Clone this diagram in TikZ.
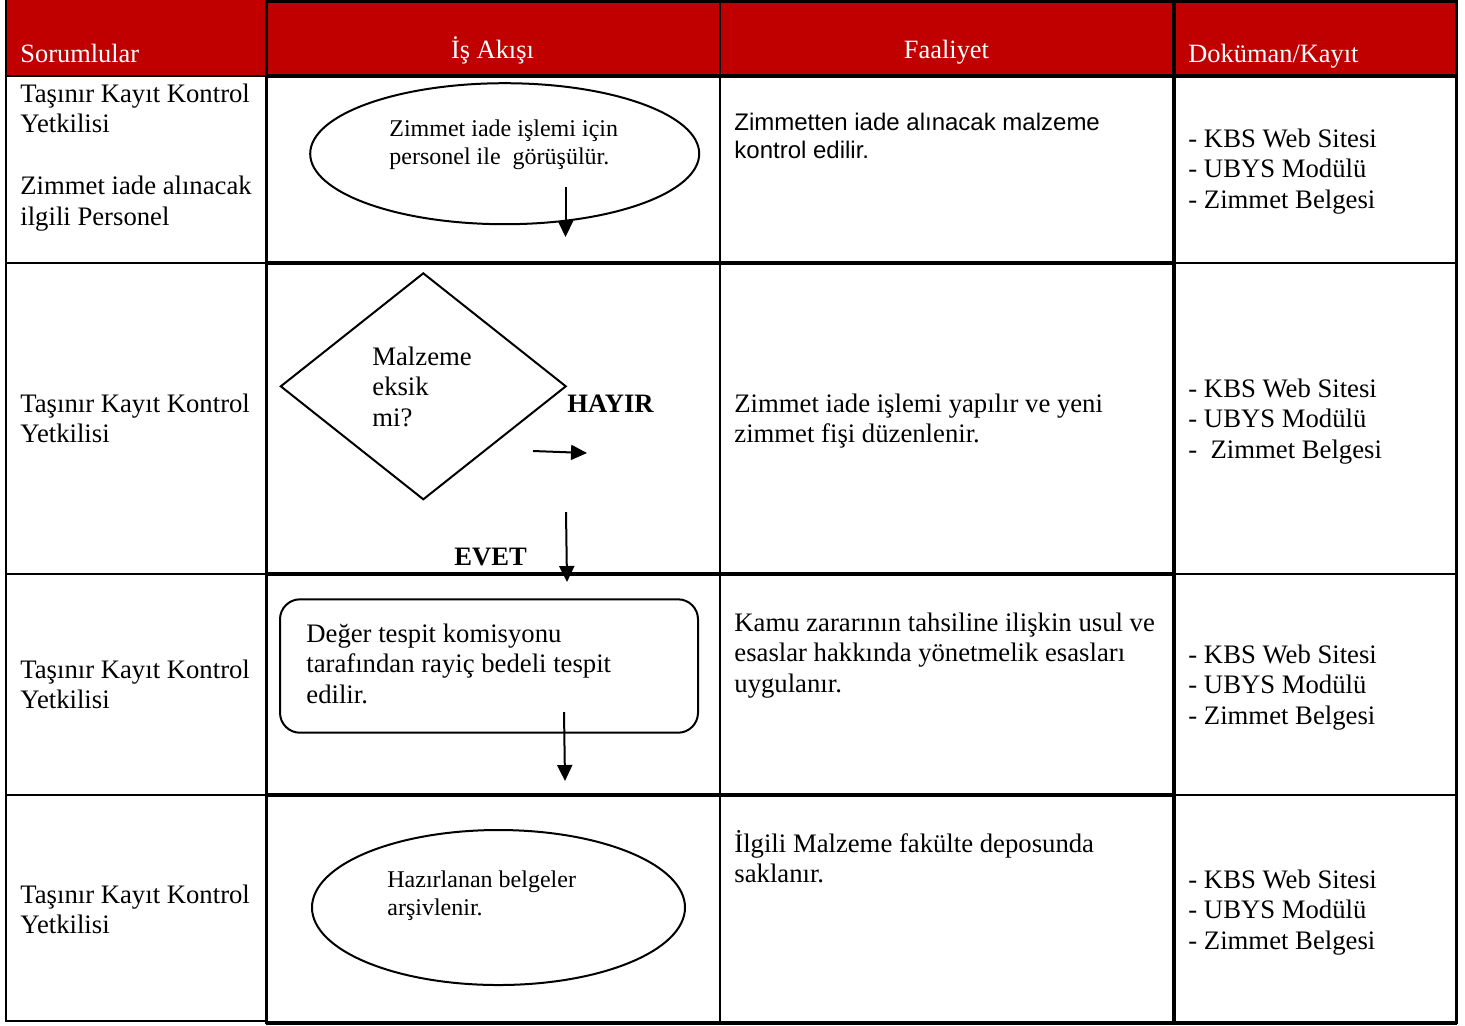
\documentclass[tikz,border=0pt]{standalone}
\usepackage{fontspec}
\setmainfont{Liberation Serif}
\newfontfamily\arialf{Liberation Sans}
\usetikzlibrary{shapes.geometric,arrows.meta}
\definecolor{hdrred}{RGB}{192,0,0}
\newcommand\tl[1]{\begin{tabular}[t]{@{}l@{}}#1\end{tabular}}
\begin{document}
\begin{tikzpicture}[x=0.5pt,y=-0.5pt,
  main/.style={font=\fontsize{13.35}{15.4}\selectfont, inner sep=0pt, anchor=base west},
  small/.style={font=\fontsize{12}{14}\selectfont, inner sep=0pt, anchor=base west},
  sanst/.style={font=\arialf\fontsize{12}{14}\selectfont, inner sep=0pt, anchor=base west},
  hdr/.style={font=\fontsize{13.2}{15.4}\selectfont, text=white, inner sep=0pt, anchor=base west},
  lbl/.style={font=\bfseries\fontsize{13.3}{15.4}\selectfont, inner sep=0pt, anchor=base west},
  thinln/.style={line width=1pt},
  midln/.style={line width=1.5pt},
  thickln/.style={line width=2pt},
  shp/.style={draw, line width=1pt, inner sep=0pt, outer sep=0pt},
  arr/.style={line width=1pt, -{Triangle[length=8pt,width=7.5pt]}}
]
\fill[white] (0,0) rectangle (1465,1025);
\useasboundingbox (0,0) rectangle (1465,1025);
% header band
\fill[hdrred] (6,0) rectangle (1456,76);
% horizontal rules
\draw[midln] (266,1.5) -- (1456,1.5);
\draw[thinln] (6,76) -- (266,76);
\draw[thickln] (266,76) -- (1456,76);
\foreach \yy in {262.5,573.5,795} {
  \draw[thinln] (6,\yy) -- (266,\yy);
  \draw[thickln] (266,\yy) -- (1174,\yy);
  \draw[thinln] (1174,\yy) -- (1456,\yy);
}
\draw[thinln] (6,1021) -- (266,1021);
\draw[thickln] (266,1023) -- (1457,1023);
% vertical rules
\draw[thinln] (6,0) -- (6,1022);
\draw[midln] (266,0) -- (266,1024);
\draw[thinln] (720,0) -- (720,1024);
\draw[thickln] (1174,0) -- (1174,1024);
\draw[midln] (1456,0) -- (1456,1024);

% header texts
\node[hdr] (h1) at (20,62) {Sorumlular};
\node[hdr, anchor=base] (h2) at (492.5,58) {İş Akışı};
\node[hdr, anchor=base] (h3) at (946.5,58) {Faaliyet};
\node[hdr] (h4) at (1188,62) {Doküman/Kayıt};

% column 1
\node[main] (s1) at (20,102) {\tl{Taşınır Kayıt Kontrol\\Yetkilisi\\ \\Zimmet iade alınacak\\ilgili Personel}};
\node[main] (s2) at (20,412) {\tl{Taşınır Kayıt Kontrol\\Yetkilisi}};
\node[main] (s3) at (20,678) {\tl{Taşınır Kayıt Kontrol\\Yetkilisi}};
\node[main] (s4) at (20,903) {\tl{Taşınır Kayıt Kontrol\\Yetkilisi}};

% column 3
\node[sanst] (f1) at (734,130) {\tl{Zimmetten iade alınacak malzeme\\kontrol edilir.}};
\node[main] (f2) at (734,412) {\tl{Zimmet iade işlemi yapılır ve yeni\\zimmet fişi düzenlenir.}};
\node[main] (f3) at (734,631) {\tl{Kamu zararının tahsiline ilişkin usul ve\\esaslar hakkında yönetmelik esasları\\uygulanır.}};
\node[main] (f4) at (734,852) {\tl{İlgili Malzeme fakülte deposunda\\saklanır.}};

% column 4
\node[main] (k1) at (1188,147) {\tl{- KBS Web Sitesi\\- UBYS Modülü\\- Zimmet Belgesi}};
\node[main] (k2) at (1188,397) {\tl{- KBS Web Sitesi\\- UBYS Modülü\\-\ \ Zimmet Belgesi}};
\node[main] (k3) at (1188,663) {\tl{- KBS Web Sitesi\\- UBYS Modülü\\- Zimmet Belgesi}};
\node[main] (k4) at (1188,888) {\tl{- KBS Web Sitesi\\- UBYS Modülü\\- Zimmet Belgesi}};

% flow shapes
\node[shp, ellipse, minimum width=194.5pt, minimum height=70.5pt] (e1) at (504.7,153.7) {};
\node[small] (e1t) at (389,136) {\tl{Zimmet iade işlemi için\\personel ile\ \ görüşülür.}};

\node[shp, diamond, minimum width=142.5pt, minimum height=113pt] (d1) at (423.3,386.3) {};
\node[main] (d1t) at (372,365) {\tl{Malzeme\\eksik\\mi?}};
\node[lbl] (hayir) at (567,412) {HAYIR};
\node[lbl] (evet) at (454,565) {EVET};

\node[shp, rectangle, rounded corners=10pt, minimum width=209pt, minimum height=66.7pt] (rr) at (489,666) {};
\node[main] (rrt) at (306,642) {\tl{Değer tespit komisyonu\\tarafından rayiç bedeli tespit\\edilir.}};

\node[shp, ellipse, minimum width=186.5pt, minimum height=77.5pt] (e2) at (498.5,907.5) {};
\node[small] (e2t) at (387,887) {\tl{Hazırlanan belgeler\\arşivlenir.}};

% arrows
\coordinate (a1s) at (565.5,187);
\coordinate (a1e) at (565.5,237);
\coordinate (a2s) at (533,451);
\coordinate (a2e) at (587,453);
\coordinate (a3s) at (566,512);
\coordinate (a3e) at (567,582);
\coordinate (a4s) at (564,712);
\coordinate (a4e) at (565,781);
\draw[arr] (a1s) -- (a1e);
\draw[arr] (a2s) -- (a2e);
\draw[arr] (a3s) -- (a3e);
\draw[arr] (a4s) -- (a4e);
\end{tikzpicture}
\end{document}
